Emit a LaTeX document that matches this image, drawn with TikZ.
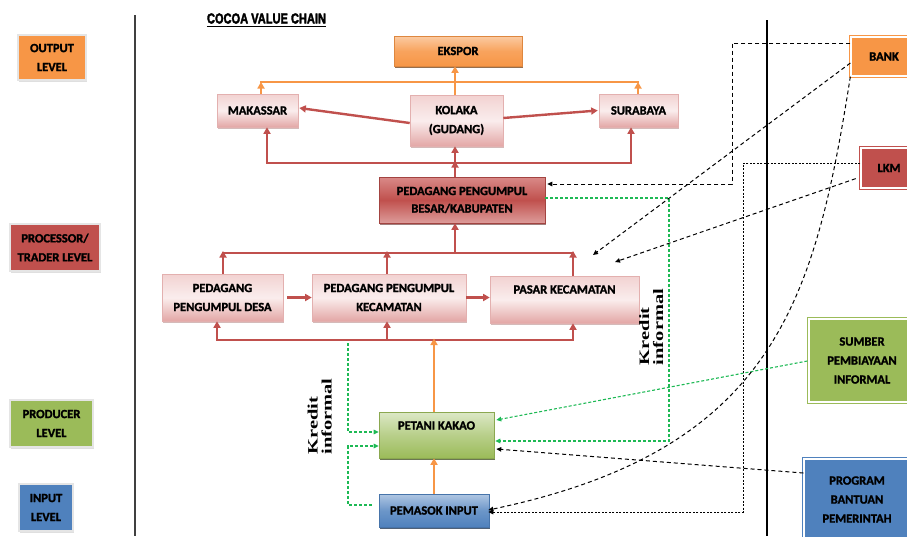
\documentclass[tikz,border=0pt]{standalone}
\usepackage{fontspec}
\setmainfont{Carlito}[BoldFeatures={FakeBold=1.6}]
\newfontfamily\kredfont{Liberation Serif}
\newfontfamily\titlefont{Liberation Sans}[BoldFeatures={FakeBold=3}]
\usetikzlibrary{arrows.meta,shadows}
\definecolor{cOr}{HTML}{F79646}
\definecolor{cRd}{HTML}{C0504D}
\definecolor{cGr}{HTML}{9BBB59}
\definecolor{cBl}{HTML}{4F81BD}
\definecolor{gDash}{HTML}{1DB954}
\definecolor{pkT}{HTML}{F2D2D1}
\definecolor{pkM}{HTML}{FAEDED}
\definecolor{pkB}{HTML}{E3A7A6}
\definecolor{rdT}{HTML}{D98A88}
\definecolor{rdB}{HTML}{DD9C9A}
\definecolor{orT}{HTML}{FBCBA3}
\definecolor{grT}{HTML}{DCE8C6}
\definecolor{blT}{HTML}{B0C7E3}
\begin{document}
\begin{tikzpicture}[x=1pt,y=-1pt,
  lbl/.style={font=\bfseries\fontsize{12.5}{19}\selectfont, align=center, text=black, inner sep=0pt},
  levelbox/.style={lbl, draw=black!10, line width=1.6pt, drop shadow={shadow xshift=1pt,shadow yshift=-1.5pt,fill=black!25}},
  rightbox/.style={lbl, line width=1.3pt, double=white, double distance=1.2pt},
  pinkbox/.style={lbl, draw=cRd!45, line width=0.6pt, top color=pkT, bottom color=pkB, middle color=pkM,
     drop shadow={shadow xshift=1.2pt,shadow yshift=-1.8pt,fill=cRd!70!black,opacity=0.35}},
  redbox/.style={lbl, draw=cRd!85!black, line width=0.6pt, top color=rdT, bottom color=rdB, middle color=cRd,
     drop shadow={shadow xshift=1.2pt,shadow yshift=-1.8pt,fill=cRd!50!black,opacity=0.6}},
  orbox/.style={lbl, draw=cOr!90!black, line width=0.6pt, top color=orT, bottom color=cOr, middle color=cOr!75!orT,
     drop shadow={shadow xshift=1pt,shadow yshift=-2pt,fill=cOr!50!black,opacity=0.8}},
  grbox/.style={lbl, draw=cGr!90!black, line width=0.6pt, top color=grT, bottom color=cGr, middle color=cGr!55!grT,
     drop shadow={shadow xshift=1pt,shadow yshift=-2pt,fill=cGr!45!black,opacity=0.8}},
  blbox/.style={lbl, draw=cBl!90!black, line width=0.6pt, top color=blT, bottom color=cBl, middle color=cBl!70!blT,
     drop shadow={shadow xshift=1pt,shadow yshift=-2pt,fill=cBl!45!black,opacity=0.8}},
  rline/.style={draw=cRd, line width=2.4pt},
  oline/.style={draw=cOr, line width=2.4pt},
  tipbig/.style={-{Triangle[length=6.5pt,width=7pt]}},
  tipsm/.style={-{Triangle[length=5pt,width=4.5pt]}},
  gdash/.style={draw=gDash, line width=1.1pt, dash pattern=on 3pt off 2pt},
  kdash/.style={draw=black, line width=1pt, dash pattern=on 4pt off 3pt},
  kdot/.style={draw=black, line width=1pt, dash pattern=on 2pt off 1.5pt},
  sepline/.style={draw=black!75, line width=1.2pt},
  kred/.style={font=\kredfont\bfseries\fontsize{20.5}{18}\selectfont, inner sep=0pt, rotate=90}
]
\useasboundingbox (0,0) rectangle (907,536);
\clip (0,0) rectangle (907,536);

% separators
\coordinate (s1a) at (135,15);  \coordinate (s1b) at (135,536);
\coordinate (s2a) at (767,20);  \coordinate (s2b) at (767,536);
\draw[sepline] (s1a) -- (s1b);
\draw[sepline, draw=black] (s2a) -- (s2b);

% title
\node[inner sep=0pt, anchor=center] (title) at (266.5,18.5)
  {\resizebox{119pt}{10pt}{\titlefont\bfseries COCOA VALUE CHAIN}};
\draw[line width=0.9pt] ([yshift=-2.5pt]title.south west) -- ([yshift=-2.5pt]title.south east);

% level boxes
\node[levelbox, fill=cOr, minimum width=68pt, minimum height=45pt] (outl) at (52,57.5) {OUTPUT\\LEVEL};
\node[levelbox, fill=cRd, minimum width=90pt, minimum height=47pt] (procl) at (55,247.5) {PROCESSOR/\\TRADER LEVEL};
\node[levelbox, fill=cGr, minimum width=83pt, minimum height=47pt] (prodl) at (51.5,423.5) {PRODUCER\\LEVEL};
\node[levelbox, fill=cBl, minimum width=54pt, minimum height=47pt] (inl) at (46,507.5) {INPUT\\LEVEL};

% chain boxes
\node[orbox, minimum width=128pt, minimum height=30pt] (ekspor) at (458,51) {EKSPOR};
\node[pinkbox, minimum width=81pt, minimum height=33pt] (makassar) at (257.5,110.5) {MAKASSAR};
\node[pinkbox, minimum width=93pt, minimum height=51pt] (kolaka) at (456.5,120.5) {KOLAKA\\(GUDANG)};
\node[pinkbox, minimum width=79pt, minimum height=33pt] (surabaya) at (638.5,110.5) {SURABAYA};
\node[redbox, minimum width=166pt, minimum height=46pt] (besar) at (462,200) {PEDAGANG PENGUMPUL\\[-1.5pt]BESAR/KABUPATEN};
\node[pinkbox, minimum width=121pt, minimum height=47pt] (desa) at (222.5,297.5) {PEDAGANG\\PENGUMPUL DESA};
\node[pinkbox, minimum width=154pt, minimum height=47pt] (kec) at (389,297.5) {PEDAGANG PENGUMPUL\\KECAMATAN};
\node[pinkbox, minimum width=149pt, minimum height=47pt] (pasar) at (564.5,299.5) {};
\node[lbl] (pasart) at (564.5,289.5) {PASAR KECAMATAN};
\node[grbox, minimum width=115pt, minimum height=46pt] (petani) at (436.5,435) {};
\node[lbl] (petanit) at (436.5,425.5) {PETANI KAKAO};
\node[blbox, minimum width=110pt, minimum height=33pt] (pemasok) at (434,510.5) {PEMASOK INPUT};

% right boxes
\node[rightbox, draw=cOr, fill=cOr, minimum width=66pt, minimum height=39pt] (bank) at (884,56.5) {BANK};
\node[rightbox, draw=cRd, fill=cRd, minimum width=56pt, minimum height=40pt] (lkm) at (889,168) {LKM};
\node[rightbox, draw=cGr, fill=cGr, minimum width=106pt, minimum height=83pt] (sumber) at (862,360.5) {SUMBER\\PEMBIAYAAN\\INFORMAL};
\node[rightbox, draw=cBl, fill=cBl, minimum width=106pt, minimum height=81pt] (program) at (857,499.5) {PROGRAM\\BANTUAN\\PEMERINTAH};

% kredit labels
\node[kred] (kred1) at (321.5,416.5) {\scalebox{1}[0.7]{\begin{tabular}{@{}l@{}}Kredit\\informal\end{tabular}}};
\node[kred] (kred2) at (653,327) {\scalebox{1}[0.7]{\begin{tabular}{@{}l@{}}Kredit\\informal\end{tabular}}};

% helper coordinates
\coordinate (cx) at (455,0);
\coordinate (kx) at (387,0);
\coordinate (px) at (434,0);
\coordinate (oj1) at (261,82);
\coordinate (oj2) at (638,82);
\coordinate (rj1) at (267,163);
\coordinate (rj2) at (631,163);
\coordinate (sj1) at (223,253);
\coordinate (sj2) at (573,253);
\coordinate (bj1) at (217,340);
\coordinate (bj2) at (573,340);

% orange output links
\draw[oline, tipbig] (makassar.north -| oj1) -- (oj1);
\draw[oline, tipbig] (surabaya.north -| oj2) -- (oj2);
\draw[oline] ([xshift=-1.2pt]oj1) -- ([xshift=1.2pt]oj2);
\draw[oline, tipbig] (kolaka.north -| cx) -- (ekspor.south -| cx);

% red top level
\draw[rline, tipbig] (besar.north -| cx) -- ([yshift=2pt]rj1 -| cx);
\draw[rline] ([xshift=-1.2pt]rj1) -- ([xshift=1.2pt]rj2);
\draw[rline, tipbig] (rj1) -- (makassar.south -| rj1);
\draw[rline, tipbig] (rj2) -- (surabaya.south -| rj2);
\draw[rline, tipbig] (rj1 -| cx) -- (kolaka.south -| cx);
\draw[rline, tipbig] ([yshift=-2.5pt]kolaka.west) -- ([yshift=2.5pt,xshift=1pt]makassar.east);
\draw[rline, tipbig] ([yshift=2.5pt]kolaka.east) -- ([xshift=-1pt]surabaya.west);

% red middle level
\draw[rline, tipbig] (desa.north -| sj1) -- ([yshift=2pt]sj1);
\draw[rline, tipbig] (kec.north -| kx) -- ([yshift=2pt]sj1 -| kx);
\draw[rline, tipbig] (pasar.north -| sj2) -- ([yshift=2pt]sj2);
\draw[rline] ([xshift=-1.2pt]sj1) -- ([xshift=1.2pt]sj2);
\draw[rline, tipbig] (sj1 -| cx) -- (besar.south -| cx);
\draw[rline, tipbig, shorten <=4pt] (desa.east) -- (kec.west);
\draw[rline, tipbig] (kec.east) -- (pasar.west |- kec.east);

% red bottom level
\draw[rline] ([xshift=-1.2pt]bj1) -- ([xshift=1.2pt]bj2);
\draw[rline, tipbig] (bj1) -- (desa.south -| bj1);
\draw[rline, tipbig] (bj1 -| kx) -- (kec.south -| kx);
\draw[rline, tipbig] (bj2) -- (pasar.south -| bj2);
\draw[oline, tipbig] (petani.north -| px) -- ([yshift=1.5pt]bj1 -| px);
\draw[oline, tipbig] (pemasok.north -| px) -- (petani.south -| px);

% green dashed (informal credit)
\coordinate (g1) at (348,343);
\coordinate (gy1) at (0,432);
\coordinate (gy2) at (0,446);
\coordinate (gy3) at (0,505);
\coordinate (gx) at (348,0);
\coordinate (gx2) at (669,0);
\coordinate (gy4) at (0,198);
\coordinate (gy5) at (0,441);
\draw[gdash, tipsm] (g1) |- (petani.west |- gy1);
\draw[gdash, tipsm, shorten <=7pt] (pemasok.west |- gy3) -| (gx |- gy2) -- (petani.west |- gy2);
\draw[gdash, tipsm] (besar.east |- gy4) -| (gx2 |- gy5) -- ([xshift=1pt]petani.east |- gy5);
\draw[gdash, tipsm] ([xshift=-1pt]sumber.west |- 0,361) -- ([xshift=2pt]petani.east |- 0,420);

% black dashed (formal finance)
\coordinate (bt1) at (593,255);
\coordinate (bt2) at (615,262);
\draw[kdash, tipsm] (bank.west |- 0,43) -| (732,184) -- ([xshift=2pt]besar.east |- 0,184);
\draw[kdash, tipsm] (bank.west |- 0,63) -- (bt1);
\draw[kdash, tipsm] (bank.south west) .. controls (815,300) and (775,450) .. ([xshift=-1pt]pemasok.east |- 0,510);
\draw[kdot, tipsm] (lkm.west |- 0,163) -| (743,512) -- ([xshift=-1pt]pemasok.east |- 0,512);
\draw[kdash, tipsm, shorten <=5pt] (lkm.west |- 0,177) -- (bt2);
\draw[kdash, tipsm] (program.west |- 0,473) -- ([xshift=2pt]petani.east |- 0,449);
\end{tikzpicture}
\end{document}
